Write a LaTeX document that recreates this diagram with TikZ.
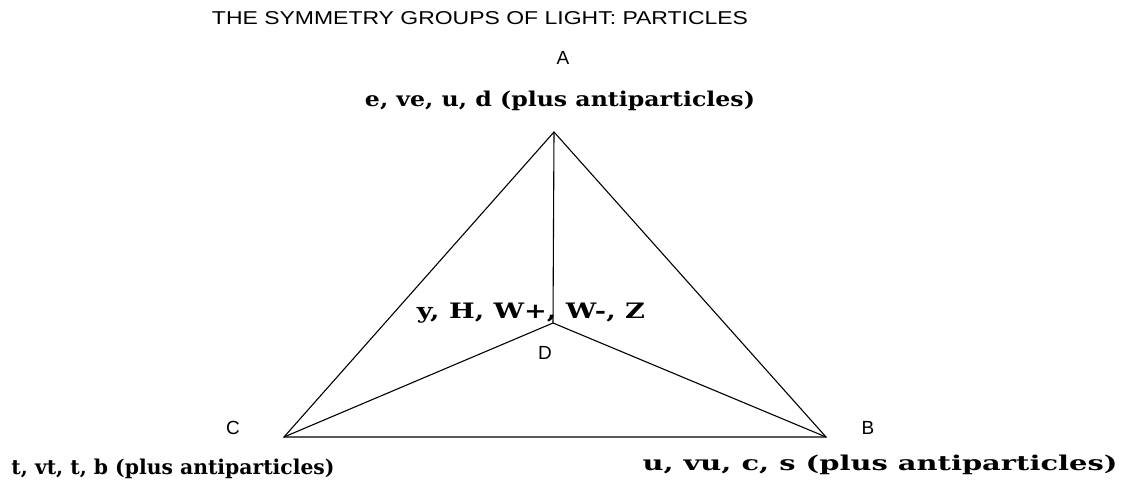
\documentclass[tikz,border=0pt]{standalone}
\usepackage{fontspec}
\setmainfont{Liberation Sans}
\newfontfamily\labfont{DejaVu Serif}
\usepackage{graphicx}
\begin{document}
\begin{tikzpicture}[x=1pt,y=1pt,
  edge/.style={draw=black,line width=1.1pt},
  letter/.style={font=\fontsize{19}{19}\selectfont,inner sep=0pt},
  plab/.style={inner sep=0pt,anchor=base}]
\useasboundingbox (0,0) rectangle (1125,483);
\coordinate (A) at (554,351);
\coordinate (D) at (553,160);
\coordinate (C) at (284,46);
\coordinate (B) at (826,46);
\draw[edge] (A) -- (C) -- (B) -- cycle;
\draw[edge] (A) -- (D);
\draw[edge] (D) -- (C);
\draw[edge] (D) -- (B);
\node[plab] (title) at (480,458) {\resizebox{536pt}{13pt}{\fontsize{16}{16}\selectfont THE SYMMETRY GROUPS OF LIGHT: PARTICLES}};
\node[letter] (la) at (563,425) {A};
\node[letter] (ld) at (545,130) {D};
\node[letter] (lc) at (233,55) {C};
\node[letter] (lb) at (868,55) {B};
\node[plab] (ta) at (560,377) {\resizebox{390pt}{15.5pt}{\labfont\bfseries e, ve, u, d (plus antiparticles)}};
\node[plab] (td) at (531,165) {\resizebox{228pt}{15.5pt}{\labfont\bfseries y, H, W+, W-, Z}};
\node[plab] (tc) at (173,9) {\resizebox{323pt}{15.5pt}{\labfont\bfseries t, vt, t, b (plus antiparticles)}};
\node[plab] (tb) at (880,13) {\resizebox{475pt}{15.5pt}{\labfont\bfseries u, vu, c, s (plus antiparticles)}};
\end{tikzpicture}
\end{document}
